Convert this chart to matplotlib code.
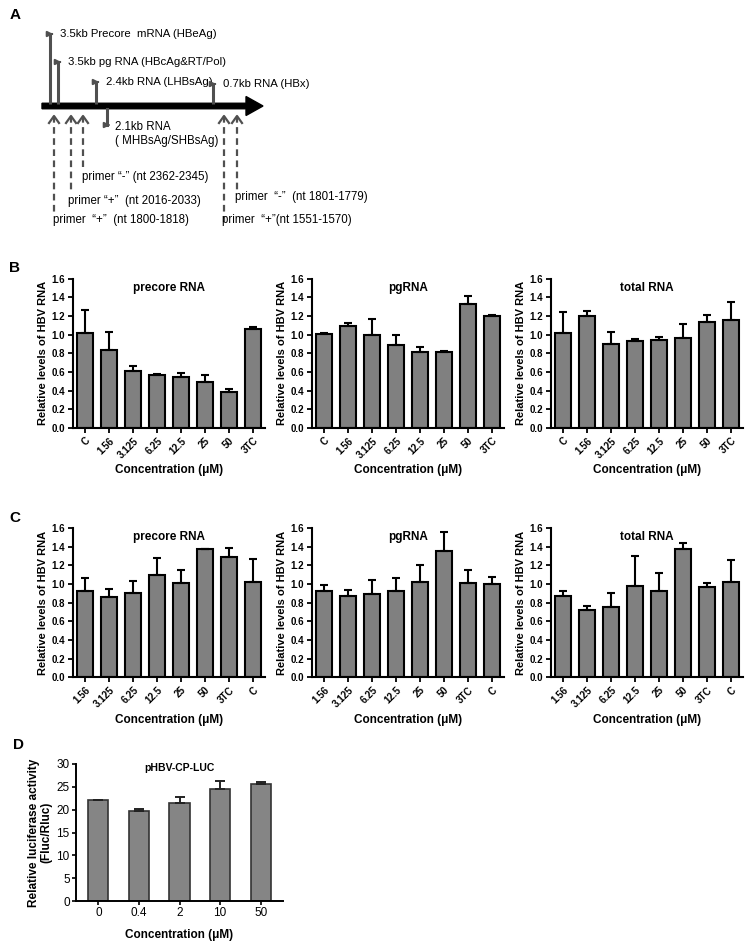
import matplotlib
matplotlib.use("Agg")
import matplotlib.pyplot as plt
import numpy as np

plt.rcParams["font.family"] = ["Liberation Sans", "DejaVu Sans"]

# panel B / C data: relative HBV RNA levels (mean, upper error)
conc_b = ["C", "1.56", "3.125", "6.25", "12.5", "25", "50", "3TC"]
conc_c = ["1.56", "3.125", "6.25", "12.5", "25", "50", "3TC", "C"]
rna_titles = ["precore RNA", "pgRNA", "total RNA"]

b_precore = [1.02, 0.84, 0.61, 0.57, 0.55, 0.49, 0.39, 1.06]
b_precore_err = [0.24, 0.19, 0.05, 0.005, 0.04, 0.08, 0.03, 0.025]
b_pg = [1.005, 1.09, 1.0, 0.89, 0.81, 0.815, 1.33, 1.20]
b_pg_err = [0.01, 0.035, 0.17, 0.11, 0.06, 0.01, 0.08, 0.015]
b_total = [1.015, 1.20, 0.90, 0.935, 0.945, 0.96, 1.13, 1.16]
b_total_err = [0.23, 0.055, 0.125, 0.015, 0.032, 0.15, 0.083, 0.19]

c_precore = [0.93, 0.86, 0.905, 1.10, 1.01, 1.375, 1.285, 1.02]
c_precore_err = [0.135, 0.086, 0.13, 0.18, 0.14, 0.003, 0.10, 0.245]
c_pg = [0.925, 0.87, 0.895, 0.93, 1.02, 1.355, 1.015, 1.005]
c_pg_err = [0.065, 0.067, 0.15, 0.135, 0.185, 0.205, 0.13, 0.075]
c_total = [0.87, 0.725, 0.75, 0.975, 0.93, 1.37, 0.97, 1.02]
c_total_err = [0.054, 0.036, 0.15, 0.33, 0.19, 0.07, 0.04, 0.24]

# panel D data
conc_d = ["0", "0.4", "2", "10", "50"]
luc = [22.1, 19.7, 21.45, 24.5, 25.65]
luc_err = [0.05, 0.4, 1.3, 1.7, 0.3]

# panel A schematic: promoters (x, level, label) and primers (x, depth, label, label pos)
promoters = [(50, 34, "3.5kb Precore  mRNA (HBeAg)"),
             (58, 62, "3.5kb pg RNA (HBcAg&RT/Pol)"),
             (96, 82, "2.4kb RNA (LHBsAg)"),
             (213, 84, "0.7kb RNA (HBx)")]
primers = [(54, 216, "primer  \u201c+\u201d  (nt 1800-1818)", 53, 220),
           (71, 193, "primer \u201c+\u201d  (nt 2016-2033)", 68, 201),
           (83, 167, "primer \u201c-\u201d (nt 2362-2345)", 82, 177),
           (224, 222, "primer  \u201c+\u201d(nt 1551-1570)", 222, 220),
           (237, 193, "primer  \u201c-\u201d  (nt 1801-1779)", 235, 197)]

fig = plt.figure(figsize=(7.54, 9.48), dpi=100)

# ---- panel A (drawn in pixel coordinates) ----
axa = fig.add_axes([0, 0, 1, 1])
axa.set_xlim(0, 754)
axa.set_ylim(948, 0)
axa.axis("off")
axa.add_patch(matplotlib.patches.FancyArrow(42, 106, 221, 0, width=5.5, head_width=19,
                                            head_length=17, length_includes_head=True,
                                            color="black"))
gcol = "#505050"
for x, top, lab in promoters:
    axa.plot([x, x], [104, top], color=gcol, lw=2.2, solid_capstyle="butt")
    axa.annotate("", xy=(x + 6, top), xytext=(x - 1, top),
                 arrowprops=dict(arrowstyle="-|>,head_length=0.3,head_width=0.15", color=gcol, lw=1.5))
    axa.text(x + 10, top, lab, fontsize=8.2, va="center", ha="left")
# 2.1kb promoter below the genome line
axa.plot([107, 107], [109, 125], color=gcol, lw=2.2)
axa.annotate("", xy=(113, 125), xytext=(106, 125),
             arrowprops=dict(arrowstyle="-|>,head_length=0.3,head_width=0.15", color=gcol, lw=1.5))
axa.text(115, 127, "2.1kb RNA", fontsize=8.3, va="center", ha="left")
axa.text(115, 141, "( MHBsAg/SHBsAg)", fontsize=8.3, va="center", ha="left")
for x, bot, lab, tx, ty in primers:
    axa.plot([x, x], [116, bot], color=gcol, lw=1.6, ls=(0, (3, 2)))
    axa.plot([x - 5, x, x + 5], [123, 116, 123], color=gcol, lw=1.6)
    axa.text(tx, ty, lab, fontsize=8.3, va="center", ha="left")

for lab, (x, y) in zip("ABCD", [(15, 15), (15, 268), (15, 518), (18, 745)]):
    fig.text(x / 754, 1 - y / 948, lab, fontsize=11, fontweight="bold", ha="center", va="center")


def rna_panel(rect, cats, vals, errs, title):
    ax = fig.add_axes(rect)
    x = np.arange(len(cats))
    ax.bar(x, vals, width=0.7, color="#808080", edgecolor="black", linewidth=1.5,
           yerr=[np.zeros(len(vals)), errs], capsize=3.2,
           error_kw=dict(elinewidth=1.5, capthick=1.5, ecolor="black"))
    ax.set_xlim(-0.5, len(cats) - 0.5)
    ax.set_ylim(0, 1.6)
    ax.set_yticks(np.arange(0, 1.61, 0.2))
    ax.set_yticklabels(["%.1f" % v for v in np.arange(0, 1.61, 0.2)])
    ax.set_xticks(x)
    ax.set_xticklabels(cats, rotation=45, ha="right", rotation_mode="anchor")
    for s in ["top", "right"]:
        ax.spines[s].set_visible(False)
    for s in ["left", "bottom"]:
        ax.spines[s].set_linewidth(1.5)
    ax.tick_params(direction="out", length=3.5, width=1.3, labelsize=7, pad=2)
    for t in ax.get_xticklabels() + ax.get_yticklabels():
        t.set_fontweight("bold")
    ax.set_ylabel("Relative levels of HBV RNA", fontsize=8, fontweight="bold", labelpad=3)
    ax.set_xlabel("Concentration (\u03bcM)", fontsize=8.5, fontweight="bold", labelpad=3)
    ax.text(0.5, 0.937, title, transform=ax.transAxes, ha="center", va="center",
            fontsize=8.5, fontweight="bold")
    return ax


lefts = [73, 312, 551]
for left, vals, errs, title in zip(lefts, [b_precore, b_pg, b_total],
                                   [b_precore_err, b_pg_err, b_total_err], rna_titles):
    rna_panel([left / 754, 1 - 428 / 948, 192 / 754, 149.4 / 948], conc_b, vals, errs, title)
for left, vals, errs, title in zip(lefts, [c_precore, c_pg, c_total],
                                   [c_precore_err, c_pg_err, c_total_err], rna_titles):
    rna_panel([left / 754, 1 - 677.3 / 948, 192 / 754, 149.3 / 948], conc_c, vals, errs, title)

# ---- panel D ----
axd = fig.add_axes([76 / 754, 1 - 901 / 948, 207 / 754, 137 / 948])
xd = np.arange(len(conc_d))
axd.bar(xd, luc, width=0.5, color="#858585", edgecolor="#333333", linewidth=1.2,
        yerr=[np.zeros(len(luc)), luc_err], capsize=3.5,
        error_kw=dict(elinewidth=1.4, capthick=1.4, ecolor="#222222"))
axd.set_xlim(-0.55, 4.55)
axd.set_ylim(0, 30)
axd.set_yticks(range(0, 31, 5))
axd.set_xticks(xd)
axd.set_xticklabels(conc_d)
for s in ["top", "right"]:
    axd.spines[s].set_visible(False)
for s in ["left", "bottom"]:
    axd.spines[s].set_linewidth(1.4)
axd.tick_params(direction="out", length=3, width=1.2, labelsize=8.5, pad=1.5)
axd.set_ylabel("Relative luciferase activity\n(Fluc/Rluc)", fontsize=8.5, fontweight="bold",
               linespacing=1.05)
axd.yaxis.set_label_coords(-0.115, 0.5)
axd.set_xlabel("Concentration (\u03bcM)", fontsize=8.5, fontweight="bold", labelpad=7)
axd.text(0.5, 0.97, "pHBV-CP-LUC", transform=axd.transAxes, ha="center", va="center",
         fontsize=7.5, fontweight="bold")

fig.savefig("out.png", dpi=100)
